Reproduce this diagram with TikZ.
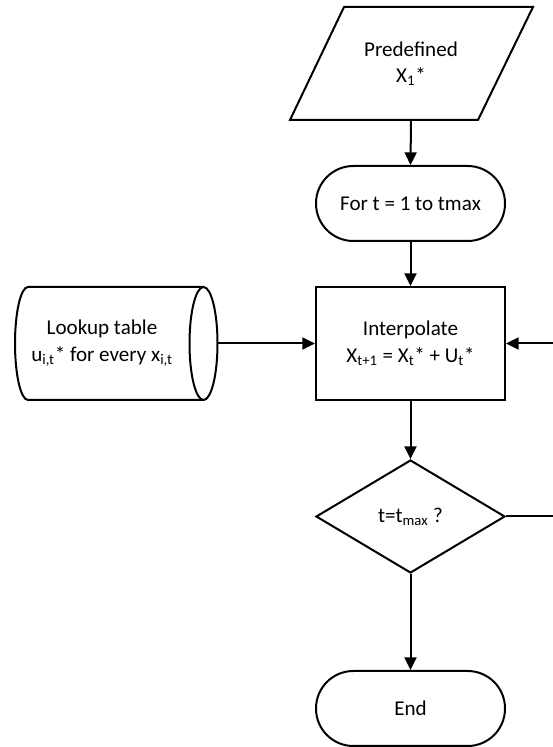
\documentclass[tikz,border=0pt]{standalone}
\usepackage{fontspec}
\setmainfont{Carlito}
\usetikzlibrary{arrows.meta,shapes.geometric}
\begin{document}
\begin{tikzpicture}[x=0.75pt,y=0.75pt,
  line width=1.5pt,
  every node/.style={font=\fontsize{15.8}{20}\selectfont, align=center},
  flow/.style={-{Triangle[length=9.5pt,width=9pt]}},
  term/.style={draw, rounded corners=28pt, minimum width=141.75pt, minimum height=56.25pt},
  proc/.style={draw, rectangle, minimum width=141.75pt, minimum height=84.75pt},
  decide/.style={draw, diamond, minimum width=141.75pt, minimum height=84.75pt, inner sep=0pt},
  ghost/.style={rectangle, minimum width=141.75pt, minimum height=84.75pt},
  storebox/.style={rectangle, minimum width=151.5pt, minimum height=84.75pt}
]
\fill[white] (0,0) rectangle (553,747);
\useasboundingbox (0,0) rectangle (553,747);

% input: predefined start state (parallelogram)
\node[ghost] (pre) at (411,683.5) {Predefined\\X\textsubscript{1}*};
\draw (344,740) -- (533,740) -- (478,627) -- (290,627) -- cycle;

% loop header
\node[term] (for) at (410.5,543.5) {For t = 1 to tmax};

% interpolation step
\node[proc] (interp) at (410.5,403.5) {Interpolate\\X\textsubscript{t+1} = X\textsubscript{t}* + U\textsubscript{t}*};

% stored lookup table (horizontal cylinder)
\node[storebox] (lut) at (116,403.5) {};
\node (lutlabel) at (102,403.5) {Lookup table\\u\textsubscript{i,t}* for every x\textsubscript{i,t}};
\draw (28,460) -- (203.5,460)
      arc[start angle=90, end angle=-90, x radius=10.5pt, y radius=42.375pt]
      -- (28,347)
      arc[start angle=270, end angle=90, x radius=9.75pt, y radius=42.375pt]
      -- cycle;
\draw (203.5,460) arc[start angle=90, end angle=270, x radius=10.5pt, y radius=42.375pt];

% termination test
\node[decide] (dec) at (410.5,230.5) {t=t\textsubscript{max} ?};

% end
\node[term] (end) at (410.5,38.5) {End};

% connectors
\draw[flow] (pre.south) -- (for.north);
\draw[flow] (for.south) -- (interp.north);
\draw[flow] (interp.south) -- (dec.north);
\draw[flow] (dec.south) -- (end.north);
\draw[flow] (lut.east) -- (interp.west);

\coordinate (loopa) at (562,230.5);
\coordinate (loopb) at (562,403.5);
\draw[flow] (dec.east) -- (loopa) -- (loopb) -- (interp.east);
\end{tikzpicture}
\end{document}
